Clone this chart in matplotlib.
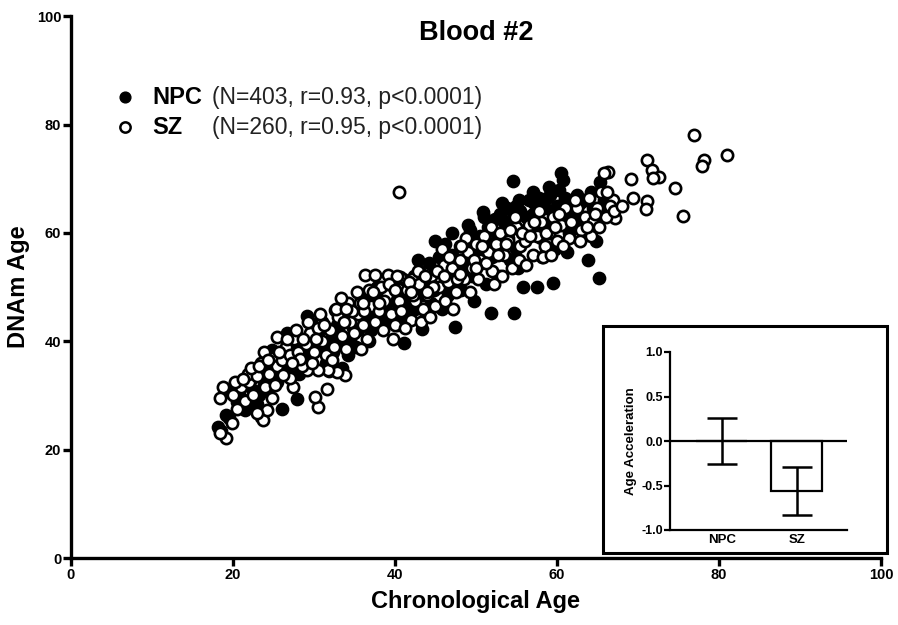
import matplotlib
matplotlib.use("Agg")
import matplotlib.pyplot as plt
from matplotlib.patches import Rectangle

plt.rcParams['font.family'] = ['Liberation Sans', 'DejaVu Sans']

# NPC (filled) - chronological age, DNAm age
npc_x = [18.2, 19.2, 18.5, 19.5, 20.2, 20.5, 19.8,
         21.5, 21.7, 21.0, 22.0, 22.5, 22.8, 23.2, 21.3, 22.2, 23.5, 23.0,
         24.0, 24.5, 24.8, 25.2, 25.5, 26.0, 25.8, 24.2, 26.2, 26.5,
         26.7, 27.9, 27.5, 28.0, 28.5, 29.1, 29.0, 28.2, 29.5, 27.2,
         30.0, 30.5, 31.0, 31.5, 32.0, 32.6, 31.8, 30.8, 32.3,
         33.0, 33.5, 34.0, 34.5, 35.0, 35.5, 34.2, 33.8, 35.2,
         36.0, 36.5, 37.0, 37.5, 38.0, 38.5, 36.8, 37.8, 38.2,
         39.0, 39.5, 40.0, 40.5, 41.1, 41.0, 40.2, 39.8, 41.5,
         42.0, 42.5, 43.3, 43.0, 43.5, 44.0, 44.5, 42.8, 44.2, 43.8,
         45.0, 45.5, 46.0, 46.5, 47.0, 47.4, 46.2, 45.8, 47.5, 47.2,
         48.0, 48.5, 49.0, 49.5, 50.0, 50.5, 48.2, 49.8, 50.9, 50.3,
         51.0, 51.5, 51.9, 52.0, 52.5, 53.0, 53.2, 52.8, 51.3, 53.5,
         54.0, 54.6, 54.7, 54.5, 55.0, 55.5, 55.8, 56.0, 56.5, 55.2, 54.2,
         57.0, 57.5, 57.8, 58.0, 58.5, 59.0, 59.5, 59.2, 58.2, 57.3, 59.8,
         60.0, 60.5, 60.8, 60.3, 61.0, 61.5, 62.0, 61.2, 62.5, 61.8,
         63.0, 63.8, 63.5, 64.0, 64.5, 65.2, 65.3, 65.0, 65.8, 64.8, 63.2,
         20.8, 22.3, 23.8, 24.6, 25.0, 26.8, 27.8, 28.8, 29.8, 30.3,
         31.2, 32.8, 33.2, 34.8, 35.8, 36.3, 37.2, 38.8, 39.3, 40.8,
         41.8, 42.3, 43.0, 44.8, 45.3, 46.8, 47.8, 48.8, 49.3, 50.2,
         50.8, 51.8, 52.3, 52.8, 53.8, 54.3, 55.3, 56.2, 56.8, 57.2,
         58.8, 59.5, 60.2, 61.3, 62.2, 62.8, 63.6, 64.2, 65.5,
         45.0, 47.0, 49.0, 51.0, 53.0, 55.0, 57.0, 59.0, 61.0]
npc_y = [24.2, 26.4, 23.5, 25.8, 32.3, 28.8, 30.5,
         27.3, 33.4, 29.5, 28.0, 31.0, 34.5, 30.0, 31.8, 33.0, 26.0, 28.5,
         33.0, 35.5, 38.4, 36.0, 32.5, 27.5, 34.0, 30.8, 37.0, 35.0,
         41.5, 29.3, 37.5, 39.5, 36.0, 44.6, 40.5, 34.0, 38.0, 33.5,
         41.0, 38.5, 42.5, 36.0, 40.0, 45.8, 34.5, 44.0, 38.0,
         42.0, 35.0, 44.0, 40.5, 46.0, 42.0, 37.5, 46.5, 39.0,
         44.5, 47.5, 42.0, 45.5, 48.5, 43.0, 40.0, 50.0, 46.0,
         47.0, 44.0, 49.0, 46.5, 39.7, 51.5, 43.0, 51.0, 48.0,
         50.5, 46.0, 42.2, 53.0, 48.5, 51.0, 47.0, 55.0, 54.5, 45.0,
         50.0, 55.5, 52.5, 48.5, 56.0, 42.6, 58.0, 46.0, 53.0, 50.0,
         57.5, 54.0, 58.5, 52.0, 56.5, 59.5, 49.5, 47.5, 63.8, 54.0,
         58.0, 61.0, 45.2, 55.5, 60.0, 57.5, 65.5, 52.0, 50.5, 62.0,
         59.0, 69.6, 45.2, 62.5, 57.0, 64.0, 50.0, 60.5, 66.0, 53.5, 55.0,
         63.5, 50.0, 66.5, 59.0, 64.5, 61.5, 50.7, 67.0, 55.5, 61.0, 57.0,
         65.0, 71.0, 69.7, 62.0, 66.5, 60.0, 64.0, 56.5, 67.0, 62.5,
         63.0, 55.0, 66.0, 61.5, 64.5, 51.7, 69.4, 62.5, 66.0, 58.5, 59.5,
         30.0, 29.5, 32.0, 31.5, 34.5, 38.5, 40.5, 37.5, 42.0, 40.0,
         39.0, 43.0, 40.5, 42.5, 48.0, 45.5, 44.0, 45.0, 49.5, 44.0,
         46.5, 52.0, 50.0, 49.5, 53.0, 54.0, 52.0, 55.0, 60.5, 59.0,
         56.0, 58.0, 62.5, 59.5, 64.5, 61.0, 66.0, 63.0, 62.0, 65.5,
         66.5, 64.0, 68.0, 63.5, 66.5, 65.5, 62.0, 67.5, 64.0,
         58.5, 60.0, 61.5, 63.0, 63.5, 65.0, 67.5, 68.5, 66.0]

# SZ (open)
sz_x = [40.5, 76.9, 78.1, 77.9, 81.0, 71.1, 71.7, 72.6, 71.9, 69.1, 74.6, 69.4, 71.1, 71.0,
        75.6, 66.3, 65.8, 67.2, 66.9,
        30.5, 30.1, 31.6, 19.1, 18.4, 19.9, 18.8, 18.4, 23.7, 24.2, 23.0, 25.4, 31.0,
        33.8, 32.8, 31.7, 30.5, 29.1, 27.4, 27.0,
        36.3, 37.5, 39.1, 40.6, 42.1,
        20.0, 21.0, 21.5, 22.0, 22.5, 20.5, 21.8,
        23.0, 23.5, 24.0, 24.5, 25.0, 25.5, 24.8, 23.8, 25.2,
        26.0, 26.5, 27.0, 27.5, 28.0, 28.5, 26.2, 27.8, 28.3,
        29.0, 29.5, 30.0, 30.5, 31.0, 31.5, 29.8, 30.8,
        32.0, 32.5, 33.0, 33.5, 34.0, 34.5, 32.2, 34.2, 33.3,
        35.0, 35.5, 36.0, 36.5, 37.0, 37.5, 35.3, 36.8, 35.8,
        38.0, 38.5, 39.0, 39.5, 40.0, 40.5, 38.3, 39.8, 40.2,
        41.0, 41.5, 42.0, 42.5, 43.0, 43.5, 41.3, 42.8, 43.2,
        44.0, 44.5, 45.0, 45.5, 46.0, 46.5, 44.3, 45.8, 46.2,
        47.0, 47.5, 48.0, 48.5, 49.0, 49.5, 47.2, 48.8, 49.3,
        50.0, 50.5, 51.0, 51.5, 52.0, 52.5, 50.2, 51.8, 52.2,
        53.0, 53.5, 54.0, 54.5, 55.0, 55.5, 53.2, 54.8, 55.3,
        56.0, 56.5, 57.0, 57.5, 58.0, 58.5, 56.2, 57.8, 58.3,
        59.0, 59.5, 60.0, 60.5, 61.0, 61.5, 59.3, 60.8,
        62.0, 62.5, 63.0, 63.5, 64.0, 64.5, 65.0, 65.5, 66.0, 66.5, 62.8, 64.2,
        20.3, 21.2, 22.2, 23.2, 24.3, 25.7, 26.7, 27.3, 28.7, 29.3,
        30.2, 31.3, 32.7, 33.7, 34.7, 35.7, 36.2, 37.3, 38.7, 39.3,
        40.7, 41.7, 42.2, 43.7, 44.7, 45.2, 46.7, 47.7, 48.2, 49.7,
        50.7, 51.2, 52.7, 53.7, 54.2, 55.7, 56.7, 57.2, 58.7, 59.7,
        60.2, 61.7, 62.2, 63.7, 64.7, 65.2, 66.2, 67.0, 68.0,
        34.0, 36.0, 38.0, 40.0, 42.0, 44.0, 46.0, 48.0, 50.0]
sz_y = [67.5, 78.0, 73.4, 72.3, 74.4, 73.4, 71.6, 70.3, 70.1, 69.9, 68.3, 66.4, 65.9, 64.4,
        63.1, 71.2, 71.0, 62.7, 66.1,
        27.8, 29.7, 31.2, 22.1, 23.1, 24.9, 31.5, 29.6, 25.5, 27.3, 26.7, 40.8, 43.5,
        33.8, 34.3, 34.7, 34.7, 34.7, 31.5, 33.2,
        52.2, 52.2, 52.2, 51.8, 51.5,
        30.0, 31.5, 29.0, 32.5, 30.0, 27.5, 34.0,
        33.5, 36.0, 31.5, 34.0, 37.0, 35.5, 29.5, 38.0, 32.0,
        36.5, 39.0, 37.5, 40.5, 38.0, 35.5, 33.8, 42.0, 36.8,
        39.5, 41.5, 38.0, 42.5, 40.0, 37.5, 36.0, 45.0,
        42.0, 39.0, 44.5, 41.0, 38.5, 43.5, 36.5, 47.0, 48.0,
        41.5, 45.0, 43.0, 40.5, 46.5, 43.5, 49.0, 49.5, 38.5,
        45.5, 42.0, 48.5, 45.0, 43.0, 47.5, 50.0, 40.5, 52.0,
        45.5, 49.5, 44.0, 47.5, 50.5, 46.0, 42.5, 53.0, 43.5,
        48.5, 52.0, 46.5, 50.0, 54.0, 51.0, 44.5, 57.0, 47.5,
        53.5, 49.0, 55.0, 51.5, 56.5, 53.5, 46.0, 59.0, 49.0,
        58.0, 55.0, 59.5, 56.5, 53.0, 58.0, 51.5, 61.0, 50.5,
        60.0, 56.0, 58.5, 53.5, 61.0, 57.5, 52.0, 63.0, 55.0,
        58.5, 61.5, 56.0, 59.5, 62.0, 57.5, 54.0, 64.0, 55.5,
        60.0, 63.0, 58.5, 61.5, 64.5, 59.0, 56.0, 57.5,
        62.0, 64.5, 60.5, 63.0, 66.5, 62.0, 64.5, 67.5, 63.0, 65.0, 58.5, 59.5,
        32.5, 33.0, 35.0, 35.5, 36.5, 38.0, 40.5, 36.0, 40.5, 43.5,
        40.5, 43.0, 46.0, 43.5, 45.5, 47.0, 45.5, 49.0, 47.5, 50.5,
        45.5, 51.0, 48.5, 52.0, 50.0, 53.0, 55.5, 51.5, 57.5, 55.0,
        57.5, 54.5, 56.0, 58.0, 60.5, 60.0, 59.5, 62.0, 60.0, 61.0,
        63.5, 62.0, 66.0, 61.0, 63.5, 61.0, 67.5, 64.0, 65.0,
        46.0, 47.0, 47.0, 49.5, 49.0, 49.0, 52.0, 52.5, 53.5]

# inset: age acceleration
groups = ['NPC', 'SZ']
accel_mean = [0.0, -0.56]
accel_err = [0.26, 0.27]

fig = plt.figure(figsize=(8.98, 6.25), dpi=100)
ax = fig.add_axes([0.079, 0.1072, 0.902, 0.867])

ax.scatter(npc_x, npc_y, s=72, c='black', edgecolors='black', linewidths=1.4, zorder=2)
ax.scatter(sz_x, sz_y, s=66, c='white', edgecolors='black', linewidths=1.9, zorder=3)

ax.set_xlim(0, 100)
ax.set_ylim(0, 100)
ax.set_xticks(range(0, 101, 20))
ax.set_yticks(range(0, 101, 20))
for s in ['top', 'right']:
    ax.spines[s].set_visible(False)
for s in ['left', 'bottom']:
    ax.spines[s].set_linewidth(2.4)
ax.tick_params(width=2.4, length=6, labelsize=10.5, pad=1)
for lbl in ax.get_xticklabels() + ax.get_yticklabels():
    lbl.set_fontweight('bold')
ax.set_xlabel('Chronological Age', fontsize=17, fontweight='bold', labelpad=6)
ax.set_ylabel('DNAm Age', fontsize=17, fontweight='bold', labelpad=5)
ax.text(0.5, 0.969, 'Blood #2', transform=ax.transAxes, ha='center', va='center',
        fontsize=19.5, fontweight='bold')

# legend rows
ax.scatter([0.0667], [0.8506], s=60, c='black', edgecolors='black', transform=ax.transAxes, clip_on=False)
ax.scatter([0.0667], [0.795], s=55, c='white', edgecolors='black', linewidths=1.8,
           transform=ax.transAxes, clip_on=False)
ax.text(0.1, 0.8506, 'NPC', transform=ax.transAxes, va='center', fontsize=17, fontweight='bold')
ax.text(0.1, 0.795, 'SZ', transform=ax.transAxes, va='center', fontsize=17, fontweight='bold')
ax.text(0.174, 0.8506, '(N=403, r=0.93, p<0.0001)', transform=ax.transAxes, va='center',
        fontsize=16.5, color='#222222')
ax.text(0.174, 0.795, '(N=260, r=0.95, p<0.0001)', transform=ax.transAxes, va='center',
        fontsize=16.5, color='#222222')

# inset frame
frame = Rectangle((603 / 898, 1 - 553 / 625), (887 - 603) / 898, (553 - 326) / 625,
                  transform=fig.transFigure, facecolor='white', edgecolor='black',
                  linewidth=2.2, zorder=5)
fig.patches.append(frame)

ins = fig.add_axes([0.746, 0.152, 0.197, 0.2848], zorder=6)
ins.patch.set_alpha(0)
ins.bar(range(len(groups)), accel_mean, width=0.68, color='white', edgecolor='black', linewidth=1.6)
ins.errorbar(range(len(groups)), accel_mean, yerr=accel_err, fmt='none', ecolor='black',
             elinewidth=1.8, capsize=10.8, capthick=1.8)
ins.axhline(0, color='black', linewidth=1.6)
ins.set_xlim(-0.693, 1.667)
ins.set_ylim(-1.0, 1.0)
ins.set_yticks([-1.0, -0.5, 0.0, 0.5, 1.0])
ins.set_yticklabels(['-1.0', '-0.5', '0.0', '0.5', '1.0'])
ins.set_xticks(range(len(groups)))
ins.set_xticklabels(groups)
for s in ['top', 'right']:
    ins.spines[s].set_visible(False)
for s in ['left', 'bottom']:
    ins.spines[s].set_linewidth(1.6)
ins.tick_params(axis='y', width=1.6, length=4, labelsize=9, pad=1)
ins.tick_params(axis='x', length=0, labelsize=9.5, pad=3)
for lbl in ins.get_xticklabels() + ins.get_yticklabels():
    lbl.set_fontweight('bold')
ins.set_ylabel('Age Acceleration', fontsize=9.5, fontweight='bold', labelpad=3)

fig.savefig('out.png', dpi=100)
